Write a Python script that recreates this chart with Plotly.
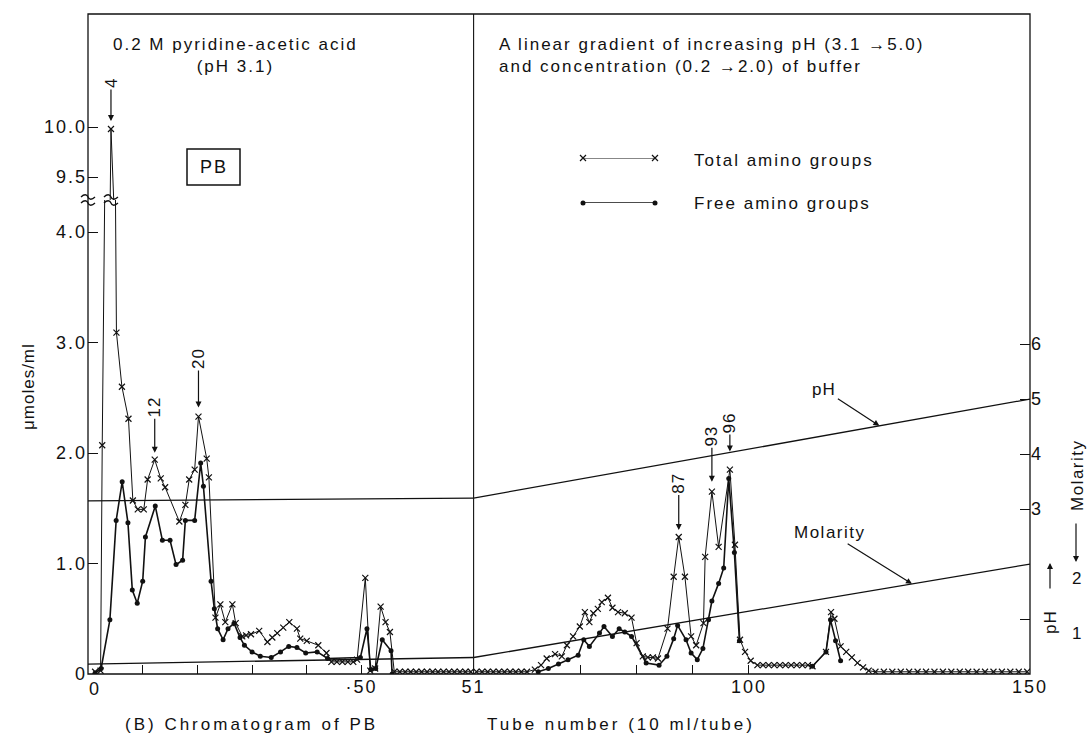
import plotly.graph_objects as go

# ---------------- data ----------------
# Left block: tubes 0-70 eluted with 0.2 M pyridine-acetic acid
total_left_tube = [1.3, 2.3, 2.6, 4.2, 5.2, 6.2, 7.4, 8.2, 9.1, 10.2, 10.9, 12.2, 13.3, 14.1,
                   16.7, 17.8, 18.5, 19.5, 20.2, 21.7, 22.1, 23.3, 24.2, 25.1, 26.4, 27.0,
                   28.2, 28.9, 29.8, 31.3, 32.8, 33.7, 34.6, 35.7, 36.8, 38.2, 38.8, 40.0,
                   42.1, 43.6, 44.5, 45.5, 46.5, 47.5, 48.5, 49.2, 50.7, 51.6, 52.5, 53.5,
                   54.4, 55.2, 56.0, 57.0, 58.0, 59.0, 60.0, 61.0, 62.0, 63.0, 64.0, 65.0,
                   66.0, 67.0, 68.0, 69.0, 70.0]
total_left_val = [0.02, 0.03, 2.07, 9.98, 3.09, 2.60, 2.31, 1.57, 1.49, 1.49, 1.76, 1.94, 1.77, 1.69,
                  1.38, 1.53, 1.76, 1.85, 2.33, 1.95, 1.78, 0.51, 0.63, 0.47, 0.63, 0.46,
                  0.34, 0.35, 0.36, 0.39, 0.29, 0.33, 0.37, 0.42, 0.47, 0.41, 0.32, 0.30,
                  0.26, 0.19, 0.11, 0.11, 0.11, 0.11, 0.11, 0.13, 0.87, 0.03, 0.05, 0.61,
                  0.47, 0.38, 0.02, 0.02, 0.02, 0.02, 0.02, 0.02, 0.02, 0.02, 0.02, 0.02,
                  0.02, 0.02, 0.02, 0.02, 0.02]
free_left_tube = [1.3, 2.4, 4.0, 5.15, 6.25, 7.3, 8.1, 9.0, 10.0, 10.5, 12.3, 13.6, 15.0, 16.1,
                  17.3, 17.8, 19.5, 20.6, 21.1, 22.5, 23.1, 23.7, 24.7, 25.6, 26.7, 27.8,
                  28.6, 30.0, 31.5, 33.5, 35.2, 36.7, 38.2, 39.8, 41.9, 43.8, 49.8, 51.0,
                  51.7, 52.6, 53.8, 55.4, 55.6]
free_left_val = [0.01, 0.05, 0.49, 1.39, 1.74, 1.37, 0.76, 0.64, 0.84, 1.24, 1.52, 1.21, 1.21, 0.99,
                 1.03, 1.39, 1.39, 1.91, 1.70, 0.84, 0.59, 0.41, 0.31, 0.41, 0.46, 0.33,
                 0.26, 0.20, 0.16, 0.15, 0.20, 0.25, 0.24, 0.19, 0.20, 0.14, 0.15, 0.41,
                 0.04, 0.05, 0.31, 0.21, 0.00]

# Right block: linear gradient, tubes 51-150
total_right_tube = [51.5, 52.5, 53.5, 54.5, 55.5, 56.5, 57.5, 58.5, 59.5, 60.5, 61.9, 63.0,
                    64.0, 65.5, 66.7, 67.6, 68.7, 69.9, 70.8, 71.6, 72.3, 73.1, 73.8, 74.9,
                    75.7, 76.7, 77.9, 79.1, 80.0, 81.1, 82.0, 82.9, 83.8, 85.5, 86.6, 87.5,
                    88.6, 89.7, 90.6, 91.9, 92.2, 93.4, 94.6, 96.6, 97.5, 98.4, 99.3, 100.3,
                    101.5, 102.5, 103.5, 104.5, 105.5, 106.5, 107.5, 108.5, 109.5, 110.5,
                    111.3, 113.7, 114.6, 115.2, 116.3, 117.3, 118.3, 119.3, 120.3, 121.3,
                    122.5, 124.0, 125.5, 127.0, 128.5, 130.0, 131.5, 133.0, 134.5, 136.0,
                    137.5, 139.0, 140.5, 142.0, 143.5, 145.0, 146.5, 148.0, 149.5]
total_right_val = [0.02, 0.02, 0.02, 0.02, 0.02, 0.02, 0.02, 0.02, 0.02, 0.02, 0.04, 0.08,
                   0.14, 0.18, 0.16, 0.26, 0.34, 0.43, 0.56, 0.47, 0.55, 0.59, 0.65, 0.69,
                   0.60, 0.56, 0.55, 0.51, 0.28, 0.16, 0.15, 0.15, 0.14, 0.41, 0.88, 1.24,
                   0.88, 0.34, 0.26, 0.46, 1.06, 1.65, 1.15, 1.85, 1.17, 0.31, 0.20, 0.12,
                   0.08, 0.08, 0.08, 0.08, 0.08, 0.08, 0.08, 0.08, 0.08, 0.08,
                   0.07, 0.20, 0.56, 0.50, 0.25, 0.20, 0.15, 0.10, 0.06, 0.03,
                   0.02, 0.02, 0.02, 0.02, 0.02, 0.02, 0.02, 0.02, 0.02, 0.02,
                   0.02, 0.02, 0.02, 0.02, 0.02, 0.02, 0.02, 0.02, 0.02]
free_right_tube = [62.5, 64.3, 66.1, 67.8, 69.6, 70.6, 71.6, 73.4, 74.2, 75.7, 76.9, 77.9,
                   79.1, 81.7, 84.0, 85.4, 86.6, 87.3, 88.8, 89.7, 90.8, 91.8, 92.8, 93.4,
                   94.6, 95.5, 96.4, 97.4, 98.3, None, 111.3, 113.7, 114.5, 115.4, 116.3]
free_right_val = [0.02, 0.05, 0.09, 0.13, 0.17, 0.31, 0.25, 0.37, 0.43, 0.34, 0.41, 0.38,
                  0.34, 0.10, 0.08, 0.16, 0.32, 0.44, 0.31, 0.19, 0.13, 0.23, 0.49, 0.66,
                  0.82, 0.96, 1.77, 1.10, 0.30, None, 0.07, 0.20, 0.49, 0.30, 0.12]

# Buffer conditions (right-hand scale)
grad_left_tube = [0, 70.5]
ph_left = [3.15, 3.2]
mol_left = [0.18, 0.3]
grad_right_tube = [51, 150]
ph_right = [3.2, 5.0]
mol_right = [0.3, 2.0]

# Labelled peaks
peak_labels = ["4", "12", "20", "87", "93", "96"]
peak_tubes = [4.2, 12.2, 20.2, 87.5, 93.4, 96.6]
peak_values = [9.98, 1.94, 2.33, 1.24, 1.65, 1.85]

# ---------------- geometry ----------------
W, H = 1089, 745
L, R, T, B = 88, 59, 14, 71
PW, PH = W - L - R, H - T - B


def px(x):
    return (x - L) / PW


def py(y):
    return 1 - (y - T) / PH


FONT = "Liberation Sans"
BLACK = "#111111"


def sp(s, ls=2):
    return f'<span style="letter-spacing:{ls}px">{s}</span>'


x_split = px(473.6)
y_break = py(200)

fig = go.Figure()

total_style = dict(mode="lines+markers", line=dict(color=BLACK, width=1),
                   marker=dict(symbol="x-thin", size=6, line=dict(color=BLACK, width=1.2)),
                   showlegend=False, hoverinfo="skip")
free_style = dict(mode="lines+markers", line=dict(color=BLACK, width=1.6),
                  marker=dict(symbol="circle", size=5, color=BLACK),
                  showlegend=False, hoverinfo="skip", connectgaps=False)

# buffer lines
for xa, tubes, ph, mol in [("x", grad_left_tube, ph_left, mol_left),
                           ("x2", grad_right_tube, ph_right, mol_right)]:
    fig.add_trace(go.Scatter(x=tubes, y=ph, xaxis=xa, yaxis="y3", mode="lines",
                             line=dict(color=BLACK, width=1.3), showlegend=False, hoverinfo="skip"))
    fig.add_trace(go.Scatter(x=tubes, y=mol, xaxis=xa, yaxis="y3", mode="lines",
                             line=dict(color=BLACK, width=1.3), showlegend=False, hoverinfo="skip"))

# amino group curves, left block (lower and broken upper scale)
fig.add_trace(go.Scatter(x=free_left_tube, y=free_left_val, xaxis="x", yaxis="y", **free_style))
fig.add_trace(go.Scatter(x=total_left_tube, y=total_left_val, xaxis="x", yaxis="y", **total_style))
fig.add_trace(go.Scatter(x=total_left_tube, y=total_left_val, xaxis="x", yaxis="y2", **total_style))
# right block
fig.add_trace(go.Scatter(x=free_right_tube, y=free_right_val, xaxis="x2", yaxis="y", **free_style))
fig.add_trace(go.Scatter(x=total_right_tube, y=total_right_val, xaxis="x2", yaxis="y", **total_style))

# legend keys
fig.add_trace(go.Scatter(x=[0, 1], y=[1, 1], xaxis="x3", yaxis="y4", cliponaxis=False, **total_style))
fig.add_trace(go.Scatter(x=[0, 1], y=[0, 0], xaxis="x3", yaxis="y4", cliponaxis=False, **free_style))

tick_font = dict(family=FONT, size=18, color=BLACK)
axis_common = dict(showgrid=False, zeroline=False, showline=False, ticks="inside",
                   tickcolor=BLACK, tickwidth=1.2, tickfont=tick_font)

fig.update_layout(
    width=W, height=H,
    margin=dict(l=L, r=R, t=T, b=B),
    paper_bgcolor="white", plot_bgcolor="white",
    font=dict(family=FONT, color=BLACK),
    xaxis=dict(domain=[0, x_split], range=[0, 70.5], anchor="y",
               tickvals=[0, 10, 20, 30, 40, 50],
               ticktext=["", "", "", "", "", sp("·50")], ticklen=9, **axis_common),
    xaxis2=dict(domain=[x_split, 1], range=[51, 150], anchor="y",
                tickvals=[51, 70, 80, 90, 100, 150],
                ticktext=[sp("51"), "", "", "", sp("100"), sp("150")], ticklen=9, **axis_common),
    yaxis=dict(domain=[0, y_break], range=[0, 4.29], anchor="x",
               tickvals=[0, 1, 2, 3, 4],
               ticktext=[sp("0"), sp("1.0"), sp("2.0"), sp("3.0"), sp("4.0")], ticklen=10,
               **axis_common),
    yaxis2=dict(domain=[y_break, 1], range=[9.27, 11.13], anchor="x",
                tickvals=[9.5, 10.0], ticktext=[sp("9.5"), sp("10.0")], ticklen=10, **axis_common),
    yaxis3=dict(overlaying="y", side="right", anchor="x2", range=[0, 8.62],
                tickvals=[1, 3, 4, 5, 6], ticktext=["", sp("3"), sp("4"), sp("5"), sp("6")],
                ticklen=10, **axis_common),
    xaxis3=dict(domain=[px(583), px(655)], range=[0, 1], visible=False, anchor="y4"),
    yaxis4=dict(domain=[py(203), py(158)], range=[0, 1], visible=False, anchor="x3"),
)

shapes = [
    # outer frame
    dict(type="rect", xref="paper", yref="paper", x0=0, x1=1, y0=0, y1=1,
         line=dict(color=BLACK, width=1.3)),
    # start of the gradient
    dict(type="line", xref="paper", yref="paper", x0=x_split, x1=x_split, y0=0, y1=1,
         line=dict(color=BLACK, width=1.1)),
    # "PB" box
    dict(type="rect", xref="paper", yref="paper", x0=px(187), x1=px(240), y0=py(185), y1=py(149),
         line=dict(color=BLACK, width=1.5)),
]
# scale-break squiggles on the axis and on the peak at tube 4
for xref, xanchor in [("paper", 0), ("x", total_left_tube[3])]:
    for dy in (-3, 3):
        path = f"M -7,{dy} C -4,{dy + 3} -1,{dy + 3} 0,{dy} C 1,{dy - 3} 4,{dy - 3} 7,{dy}"
        shapes.append(dict(type="path", xref=xref, yref="paper", xsizemode="pixel",
                           ysizemode="pixel", xanchor=xanchor, yanchor=y_break, path=path,
                           line=dict(color=BLACK, width=1.3)))
fig.update_layout(shapes=shapes)

txt = dict(family=FONT, size=17, color=BLACK)


def note(x, y, text, xanchor="center", yanchor="middle", **kw):
    d = dict(xref="paper", yref="paper", x=px(x), y=py(y), text=text, showarrow=False,
             xanchor=xanchor, yanchor=yanchor, font=kw.pop("font", txt))
    d.update(kw)
    return d


ann = [
    note(235, 56, sp("0.2 M pyridine-acetic acid") + "<br>" + sp("(pH 3.1)"), align="center"),
    note(497, 56, sp("A linear gradient of increasing pH (3.1 →5.0)") + "<br>"
         + sp("and concentration (0.2 →2.0) of buffer"), xanchor="left", align="left"),
    note(213.5, 167, sp("PB"), font=dict(family=FONT, size=18, color=BLACK)),
    note(692, 160, sp("Total amino groups"), xanchor="left"),
    note(692, 203, sp("Free amino groups"), xanchor="left"),
    # axis titles and captions
    note(28, 387, sp("μmoles/ml", 1), textangle=-90),
    note(95, 689, sp("0"), font=tick_font),
    note(123, 724, sp("(B) Chromatogram of PB", 3), xanchor="left"),
    note(485, 724, sp("Tube number (10 ml/tube)", 3), xanchor="left"),
    # right-hand scale
    note(1077, 475, sp("Molarity", 1.5), textangle=-90),
    note(1050, 622, sp("pH", 1), textangle=-90),
    note(1076, 578, "2"),
    note(1076, 633, "1"),
]
ann.append(dict(xref="paper", yref="paper", x=px(1076), y=py(562), text="", showarrow=True,
                ax=0, ay=-40, arrowhead=2, arrowsize=1, arrowwidth=1.2, arrowcolor=BLACK))
ann.append(dict(xref="paper", yref="paper", x=px(1050), y=py(563), text="", showarrow=True,
                ax=0, ay=27, arrowhead=2, arrowsize=1, arrowwidth=1.2, arrowcolor=BLACK))
# line labels
ph_tip = 123.2
ph_at_tip = ph_right[0] + (ph_right[1] - ph_right[0]) * (ph_tip - 51) / 99
ann.append(dict(xref="x2", yref="y3", x=ph_tip, y=ph_at_tip, text=sp("pH", 1), showarrow=True,
                ax=-55, ay=-36, arrowhead=2, arrowsize=1, arrowwidth=1.2, arrowcolor=BLACK,
                font=txt))
mol_tip = 129.0
mol_at_tip = mol_right[0] + (mol_right[1] - mol_right[0]) * (mol_tip - 51) / 99
ann.append(dict(xref="x2", yref="y3", x=mol_tip, y=mol_at_tip, text=sp("Molarity", 1.5),
                showarrow=True, ax=-82, ay=-51, arrowhead=2, arrowsize=1, arrowwidth=1.2,
                arrowcolor=BLACK, font=txt))
# peak tube numbers
peak_axes = [("x", "y2"), ("x", "y"), ("x", "y"), ("x2", "y"), ("x2", "y"), ("x2", "y")]
peak_offsets = [-46, -53, -58, -54, -56, -47]
peak_standoff = [8, 7, 9, 7, 10, 18]
for lab, t, v, (xa, ya), off, so in zip(peak_labels, peak_tubes, peak_values, peak_axes,
                                        peak_offsets, peak_standoff):
    ann.append(dict(xref=xa, yref=ya, x=t, y=v, text=sp(lab, 1), textangle=-90,
                    showarrow=True, ax=0, ay=off, standoff=so, arrowhead=2, arrowsize=1,
                    arrowwidth=1.2, arrowcolor=BLACK, font=txt))
fig.update_layout(annotations=ann)

fig.write_html("out.html")
